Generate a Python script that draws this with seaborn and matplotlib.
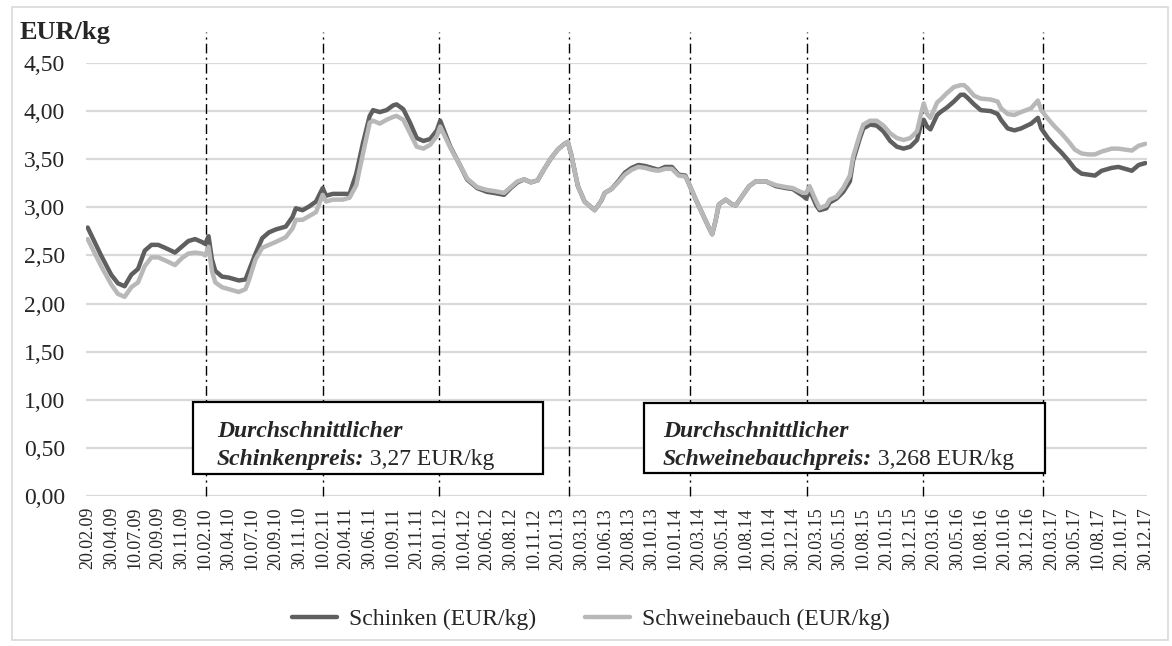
import numpy as np
import pandas as pd
import matplotlib
matplotlib.use("Agg")
import matplotlib.pyplot as plt
from matplotlib.patches import Rectangle
import seaborn as sns

# Category axis: one category per dekad report, labelled every 7th
tick_labels = [
    "20.02.09", "30.04.09", "10.07.09", "20.09.09", "30.11.09",
    "10.02.10", "30.04.10", "10.07.10", "20.09.10", "30.11.10",
    "10.02.11", "20.04.11", "30.06.11", "10.09.11", "20.11.11",
    "30.01.12", "10.04.12", "20.06.12", "30.08.12", "10.11.12",
    "20.01.13", "30.03.13", "10.06.13", "20.08.13", "30.10.13",
    "10.01.14", "20.03.14", "30.05.14", "10.08.14", "20.10.14",
    "30.12.14", "20.03.15", "30.05.15", "10.08.15", "20.10.15",
    "30.12.15", "20.03.16", "30.05.16", "10.08.16", "20.10.16",
    "30.12.16", "20.03.17", "30.05.17", "10.08.17", "20.10.17",
    "30.12.17",
]
n_categories = 316
label_step = 7

# Category index of each observation
dekade = [
    0, 4, 7, 9, 11, 13, 15, 17, 19, 21, 23, 26, 28, 30, 32, 34, 35, 36, 37, 38,
    40, 42, 45, 47, 48, 50, 52, 54, 56, 59, 61, 62, 64, 66, 68, 70, 71, 73, 76, 78,
    80, 82, 84, 85, 87, 89, 91, 92, 94, 96, 98, 100, 102, 104, 105, 108, 111, 113, 116, 119,
    121, 124, 126, 128, 130, 132, 134, 136, 138, 140, 142, 143, 144, 146, 148, 150, 151, 153, 154, 156,
    158, 160, 162, 164, 166, 168, 170, 172, 174, 176, 178, 179, 181, 183, 185, 186, 187, 188, 190, 192,
    193, 195, 197, 199, 202, 205, 208, 210, 213, 214, 215, 217, 218, 220, 221, 223, 225, 227, 228, 230,
    231, 233, 235, 237, 239, 241, 243, 245, 247, 248, 249, 250, 251, 253, 254, 256, 258, 260, 261, 262,
    264, 266, 269, 271, 272, 274, 276, 278, 281, 283, 284, 286, 288, 290, 292, 294, 296, 298, 300, 302,
    305, 307, 309, 311, 313, 315,
]

schinken = [
    2.79, 2.50, 2.30, 2.21, 2.18, 2.30, 2.36, 2.55, 2.61, 2.61, 2.58, 2.53, 2.59, 2.65, 2.67, 2.64, 2.62, 2.70, 2.46, 2.34,
    2.28, 2.27, 2.24, 2.25, 2.34, 2.52, 2.68, 2.74, 2.77, 2.80, 2.90, 2.99, 2.97, 3.01, 3.06, 3.20, 3.12, 3.14, 3.14, 3.14,
    3.35, 3.67, 3.95, 4.01, 3.99, 4.01, 4.06, 4.07, 4.02, 3.88, 3.72, 3.69, 3.71, 3.80, 3.90, 3.63, 3.43, 3.29, 3.20, 3.16,
    3.15, 3.13, 3.20, 3.26, 3.29, 3.26, 3.28, 3.40, 3.51, 3.60, 3.66, 3.68, 3.55, 3.22, 3.06, 3.00, 2.97, 3.07, 3.15, 3.19,
    3.27, 3.36, 3.41, 3.44, 3.43, 3.41, 3.39, 3.42, 3.42, 3.34, 3.33, 3.25, 3.09, 2.94, 2.79, 2.72, 2.86, 3.03, 3.08, 3.03,
    3.02, 3.12, 3.22, 3.27, 3.27, 3.22, 3.20, 3.19, 3.12, 3.09, 3.18, 3.02, 2.97, 2.99, 3.05, 3.09, 3.16, 3.27, 3.49, 3.72,
    3.82, 3.86, 3.85, 3.79, 3.69, 3.63, 3.61, 3.63, 3.70, 3.84, 3.91, 3.84, 3.81, 3.96, 3.99, 4.04, 4.10, 4.17, 4.17, 4.14,
    4.07, 4.01, 4.00, 3.97, 3.91, 3.82, 3.80, 3.82, 3.87, 3.93, 3.82, 3.72, 3.64, 3.57, 3.49, 3.40, 3.35, 3.34, 3.33, 3.38,
    3.41, 3.42, 3.40, 3.38, 3.44, 3.46,
]

schweinebauch = [
    2.67, 2.39, 2.20, 2.10, 2.07, 2.17, 2.22, 2.39, 2.48, 2.48, 2.45, 2.40, 2.47, 2.52, 2.53, 2.52, 2.50, 2.59, 2.34, 2.22,
    2.17, 2.15, 2.12, 2.15, 2.24, 2.46, 2.58, 2.61, 2.64, 2.69, 2.78, 2.87, 2.87, 2.91, 2.95, 3.13, 3.06, 3.08, 3.08, 3.10,
    3.23, 3.56, 3.88, 3.90, 3.87, 3.91, 3.94, 3.95, 3.91, 3.77, 3.63, 3.61, 3.65, 3.74, 3.84, 3.62, 3.43, 3.30, 3.21, 3.18,
    3.17, 3.15, 3.21, 3.27, 3.29, 3.26, 3.28, 3.40, 3.51, 3.60, 3.66, 3.68, 3.55, 3.22, 3.06, 3.00, 2.97, 3.07, 3.15, 3.19,
    3.26, 3.34, 3.39, 3.42, 3.41, 3.39, 3.38, 3.40, 3.40, 3.33, 3.32, 3.25, 3.09, 2.94, 2.79, 2.72, 2.86, 3.03, 3.08, 3.03,
    3.02, 3.12, 3.22, 3.27, 3.27, 3.23, 3.21, 3.20, 3.15, 3.15, 3.22, 3.06, 2.99, 3.02, 3.08, 3.11, 3.20, 3.33, 3.53, 3.76,
    3.86, 3.90, 3.90, 3.85, 3.77, 3.72, 3.70, 3.72, 3.79, 3.94, 4.08, 3.97, 3.93, 4.09, 4.12, 4.19, 4.25, 4.27, 4.27, 4.24,
    4.16, 4.13, 4.12, 4.10, 4.03, 3.97, 3.96, 3.99, 4.03, 4.11, 4.01, 3.92, 3.84, 3.77, 3.69, 3.60, 3.56, 3.55, 3.55, 3.58,
    3.61, 3.61, 3.60, 3.59, 3.64, 3.66,
]

series_names = ["Schinken (EUR/kg)", "Schweinebauch (EUR/kg)"]
series_colors = ["#5f5f5f", "#b8b8b8"]

# Year separators (category positions)
year_marks = [35.2, 70.0, 104.5, 143.4, 179.4, 214.1, 248.9, 284.4]

box_title = "Durchschnittlicher"
box_labels = ["Schinkenpreis:", "Schweinebauchpreis:"]
box_values = [" 3,27 EUR/kg", " 3,268 EUR/kg"]

y_ticks = np.arange(0, 4.51, 0.5)

df = pd.concat([
    pd.DataFrame({"dekade": dekade, "preis": schinken, "sorte": series_names[0]}),
    pd.DataFrame({"dekade": dekade, "preis": schweinebauch, "sorte": series_names[1]}),
])

sns.set_theme(style="white")
plt.rcParams["font.family"] = ["Liberation Serif", "DejaVu Serif"]

W, H = 1172, 646
fig = plt.figure(figsize=(W / 100, H / 100), dpi=100)
ax = fig.add_axes([86 / W, 1 - 496 / H, (1147 - 86) / W, (496 - 63) / H])


def fx(px):
    return px / W


def fy(py):
    return 1 - py / H


# outer chart frame
fig.patches.append(Rectangle((fx(12), fy(640)), fx(1168) - fx(12), fy(7) - fy(640),
                             transform=fig.transFigure, fill=False,
                             edgecolor="#d9d9d9", linewidth=1.2, zorder=0))

ax.yaxis.grid(True, color="#d9d9d9", linewidth=1.6)
ax.xaxis.grid(False)
ax.set_axisbelow(True)

sns.lineplot(data=df, x="dekade", y="preis", hue="sorte",
             palette=dict(zip(series_names, series_colors)),
             hue_order=series_names,
             linewidth=3.2, ax=ax, legend=False, sort=False)
for ln in ax.lines:
    ln.set_solid_capstyle("round")
    ln.set_solid_joinstyle("round")

for xv in year_marks:
    ax.plot([xv, xv], [0, 1.072], transform=ax.get_xaxis_transform(),
            color="black", linewidth=1.0, linestyle=(0, (7, 3, 1.5, 3)),
            clip_on=False, zorder=1)

ax.set_xlim(-0.5, n_categories - 0.5)
ax.set_ylim(0, 4.5)
ax.set_xticks(np.arange(0, n_categories, label_step))
ax.set_xticklabels(tick_labels, rotation=90, fontsize=13)
ax.set_yticks(y_ticks)
ax.set_yticklabels([f"{v:.2f}".replace(".", ",") for v in y_ticks], fontsize=17)
ax.tick_params(axis="both", length=0)
ax.tick_params(axis="y", pad=15)
ax.tick_params(axis="x", pad=8)
ax.set_xlabel("")
ax.set_ylabel("")
for s in ax.spines.values():
    s.set_visible(False)

fig.text(fx(20), fy(39), "EUR/kg", fontsize=19, fontweight="bold",
         ha="left", va="baseline")

# legend
handles = [plt.Line2D([], [], color=c, linewidth=3.2, solid_capstyle="round")
           for c in series_colors]
fig.legend(handles, series_names, loc="center",
           bbox_to_anchor=(fx(591), fy(619)), ncol=2, frameon=False,
           fontsize=17, handlelength=1.9, handletextpad=0.5,
           columnspacing=2.1)

# annotation boxes
boxes = [(193, 402, 543, 474, 217), (644, 403, 1045, 473, 663)]
fig.canvas.draw()
renderer = fig.canvas.get_renderer()
for (x0, y0, x1, y1, tx), lab, val in zip(boxes, box_labels, box_values):
    fig.patches.append(Rectangle((fx(x0), fy(y1)), fx(x1) - fx(x0), fy(y0) - fy(y1),
                                 transform=fig.transFigure, facecolor="white",
                                 edgecolor="black", linewidth=1.6, zorder=3))
    fig.text(fx(tx), fy(437), box_title, fontsize=17, fontweight="bold",
             fontstyle="italic", ha="left", va="baseline", zorder=4)
    t = fig.text(fx(tx), fy(465), lab, fontsize=17, fontweight="bold",
                 fontstyle="italic", ha="left", va="baseline", zorder=4)
    bb = t.get_window_extent(renderer)
    fig.text(bb.x1 / W, fy(465), val, fontsize=17, ha="left",
             va="baseline", zorder=4)

fig.savefig("out.png", dpi=100, facecolor="white")
